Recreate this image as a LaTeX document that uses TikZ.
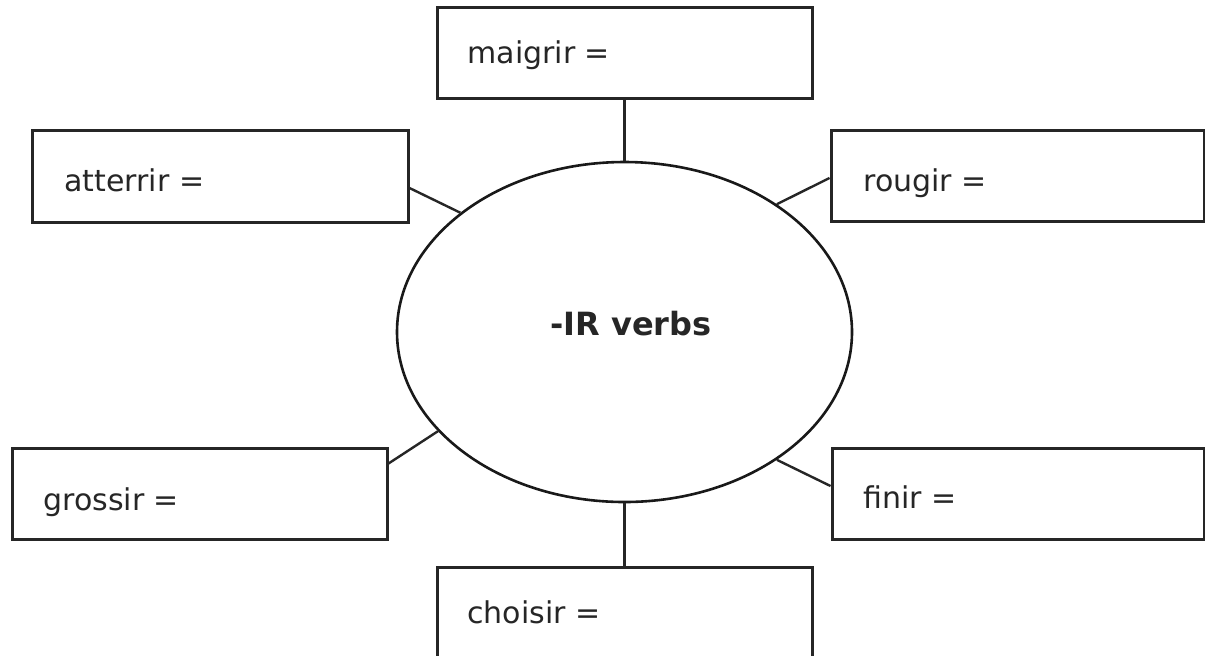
\documentclass[tikz,border=0pt]{standalone}
\usepackage{fontspec}
\setmainfont{DejaVu Sans}
\usetikzlibrary{shapes.geometric,calc}
\begin{document}
\begin{tikzpicture}[x=0.5pt,y=-0.5pt,
  wordbox/.style={draw=black!85,line width=1.5pt,rectangle,inner sep=0pt,
    minimum width=#1,minimum height=45.5pt},
  wordbox/.default=187.5pt,
  wordtext/.style={anchor=base west,inner sep=0pt,font=\fontsize{15}{18}\selectfont,text=black!85},
  link/.style={draw=black!85,line width=1.2pt},
  hub/.style={draw=black!90,line width=1.3pt,ellipse,inner sep=0pt,minimum width=227.5pt,minimum height=170pt}]
\useasboundingbox (0,0) rectangle (1205,655);
\fill[white] (0,0) rectangle (1205,655);
% central ellipse
\node[hub] (ell) at (624.5,332) {};
\node[anchor=base,inner sep=0pt,font=\fontsize{16}{19}\selectfont\bfseries,text=black!85] (title) at (631,335) {-IR verbs};
% boxes
\node[wordbox] (maigrir) at (624.5,52.5) {};
\node[wordbox] (choisir) at (624.5,612.5) {};
\node[wordbox=188pt,minimum height=46pt] (atterrir) at (220,176) {};
\node[wordbox=186.5pt] (rougir) at (1017.5,175.5) {};
\node[wordbox] (grossir) at (199.5,493.5) {};
\node[wordbox=186pt] (finir) at (1018,493.5) {};
% texts
\node[wordtext] (tmaigrir) at (467,63) {maigrir =};
\node[wordtext] (tchoisir) at (467,623) {choisir =};
\node[wordtext] (tatterrir) at (64,191) {atterrir =};
\node[wordtext] (trougir) at (863,191) {rougir =};
\node[wordtext] (tgrossir) at (43,510) {grossir =};
\node[wordtext] (tfinir) at (863,508) {finir =};
% connectors
\draw[link] (maigrir.south) -- (maigrir.south |- ell.north);
\draw[link] (choisir.north) -- (choisir.north |- ell.south);
\draw[link] ($(atterrir.east)+(0,12)$) -- (ell.144.6);
\draw[link] ($(rougir.west)+(0,2.5)$) -- (ell.40);
\draw[link] ($(grossir.east)+(0,-30)$) -- (ell.208.9);
\draw[link] ($(finir.west)+(0,-7.5)$) -- (ell.320.6);
\end{tikzpicture}
\end{document}
